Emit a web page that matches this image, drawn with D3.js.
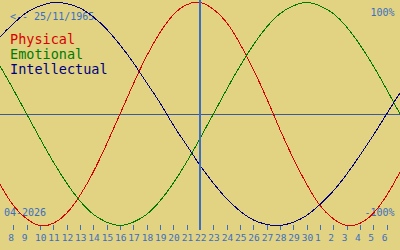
<!DOCTYPE html>
<html>
<head>
<meta charset="utf-8">
<script src="https://cdn.jsdelivr.net/npm/d3@7"></script>
<style>
body { margin: 0; background: #e1d382; }
svg { display: block; }
text { font-family: "DejaVu Sans Mono", monospace; }
</style>
</head>
<body>
<svg id="chart"></svg>
<script>
// one entry per day, 6 Apr 2026 .. 8 May 2026
var days = [
	'2026-04-06', '2026-04-07', '2026-04-08', '2026-04-09', '2026-04-10',
	'2026-04-11', '2026-04-12', '2026-04-13', '2026-04-14', '2026-04-15',
	'2026-04-16', '2026-04-17', '2026-04-18', '2026-04-19', '2026-04-20',
	'2026-04-21', '2026-04-22', '2026-04-23', '2026-04-24', '2026-04-25',
	'2026-04-26', '2026-04-27', '2026-04-28', '2026-04-29', '2026-04-30',
	'2026-05-01', '2026-05-02', '2026-05-03', '2026-05-04', '2026-05-05',
	'2026-05-06', '2026-05-07', '2026-05-08'
];

// cycle values in percent, read per day
var physical = [
	-40, -63, -82, -94, -100, -98, -89, -73, -52, -27, 0,
	27, 52, 73, 89, 98, 100, 94, 82, 63, 40, 14,
	-14, -40, -63, -82, -94, -100, -98, -89, -73, -52, -27
];
var emotional = [
	62, 43, 22, 0, -22, -43, -62, -78, -90, -97, -100,
	-97, -90, -78, -62, -43, -22, 0, 22, 43, 62, 78,
	90, 97, 100, 97, 90, 78, 62, 43, 22, 0, -22
];
var intellectual = [
	54, 69, 81, 91, 97, 100, 99, 95, 87, 76, 62,
	46, 28, 10, -10, -28, -46, -62, -76, -87, -95, -99,
	-100, -97, -91, -81, -69, -54, -37, -19, 0, 19, 37
];

var seriesNames = ['Physical', 'Emotional', 'Intellectual'];
var tickDays = days.slice(2, 31);
var viewStart = '2026-04-07';
var viewEnd = '2026-05-07';
var today = '2026-04-22';
var birthLabel = '<-- 25/11/1965';
var monthLabel = '04-2026';
var maxLabel = '100%';
var minLabel = '-100%';

function Biorhythm (root) {
	var width = 400, height = 250;
	var blue = '#3b6ec2';
	var colors = ['#d80000', '#007a00', '#000080'];
	var series = [physical, emotional, intellectual];
	var parse = d3.timeParse('%Y-%m-%d');
	var dates = days.map(parse);

	var svg = d3.select(root)
		.attr('width', width)
		.attr('height', height);

	var x = d3.scaleTime()
		.domain([parse(viewStart), parse(viewEnd)])
		.range([0, width]);
	var y = d3.scaleLinear()
		.domain([-100, 100])
		.range([225.5, 2.5]);

	// zero line
	var y0 = Math.floor(y(0)) + 0.5;
	svg.append('line')
		.attr('x1', 0).attr('x2', width)
		.attr('y1', y0).attr('y2', y0)
		.attr('stroke', '#3a5a98')
		.attr('shape-rendering', 'crispEdges');

	// texts
	svg.append('text').attr('x', 10).attr('y', 20)
		.attr('font-size', 10).attr('fill', blue).text(birthLabel);
	svg.append('text').attr('x', 4).attr('y', 216)
		.attr('font-size', 10).attr('fill', blue).text(monthLabel);
	svg.append('text').attr('x', 394.5).attr('y', 16)
		.attr('font-size', 10).attr('fill', blue)
		.attr('text-anchor', 'end').text(maxLabel);
	svg.append('text').attr('x', 394.5).attr('y', 216)
		.attr('font-size', 10).attr('fill', blue)
		.attr('text-anchor', 'end').text(minLabel);

	svg.selectAll('.legend')
		.data(seriesNames)
		.enter().append('text')
		.attr('class', 'legend')
		.attr('x', 10)
		.attr('y', function (d, i) { return 44 + i * 15; })
		.attr('font-size', 13.5)
		.attr('fill', function (d, i) { return colors[i]; })
		.text(function (d) { return d; });

	// day axis
	var axis = d3.axisBottom(x)
		.tickValues(tickDays.map(parse))
		.tickFormat(d3.timeFormat('%-d'))
		.tickSize(5);
	var g = svg.append('g')
		.attr('transform', 'translate(0,225)')
		.call(axis);
	g.select('.domain').remove();
	g.selectAll('.tick line')
		.attr('stroke', blue)
		.attr('shape-rendering', 'crispEdges');
	g.selectAll('.tick text')
		.attr('fill', blue)
		.attr('font-family', '"DejaVu Sans Mono", monospace')
		.attr('font-size', 9.5)
		.attr('text-anchor', 'start')
		.attr('x', -5.5)
		.attr('y', 16)
		.attr('dy', 0);

	// curves
	var line = d3.line()
		.x(function (d, i) { return x(dates[i]); })
		.y(function (d) { return y(d); })
		.curve(d3.curveNatural);

	svg.selectAll('.cycle')
		.data(series)
		.enter().append('path')
		.attr('class', 'cycle')
		.attr('d', line)
		.attr('fill', 'none')
		.attr('stroke', function (d, i) { return colors[i]; })
		.attr('stroke-width', 1)
		.attr('shape-rendering', 'crispEdges');

	// today marker
	svg.append('line')
		.attr('x1', x(parse(today))).attr('x2', x(parse(today)))
		.attr('y1', 0).attr('y2', 230)
		.attr('stroke', blue)
		.attr('stroke-width', 2)
		.attr('shape-rendering', 'crispEdges');

	return svg;
}

Biorhythm('#chart');
</script>
</body>
</html>
